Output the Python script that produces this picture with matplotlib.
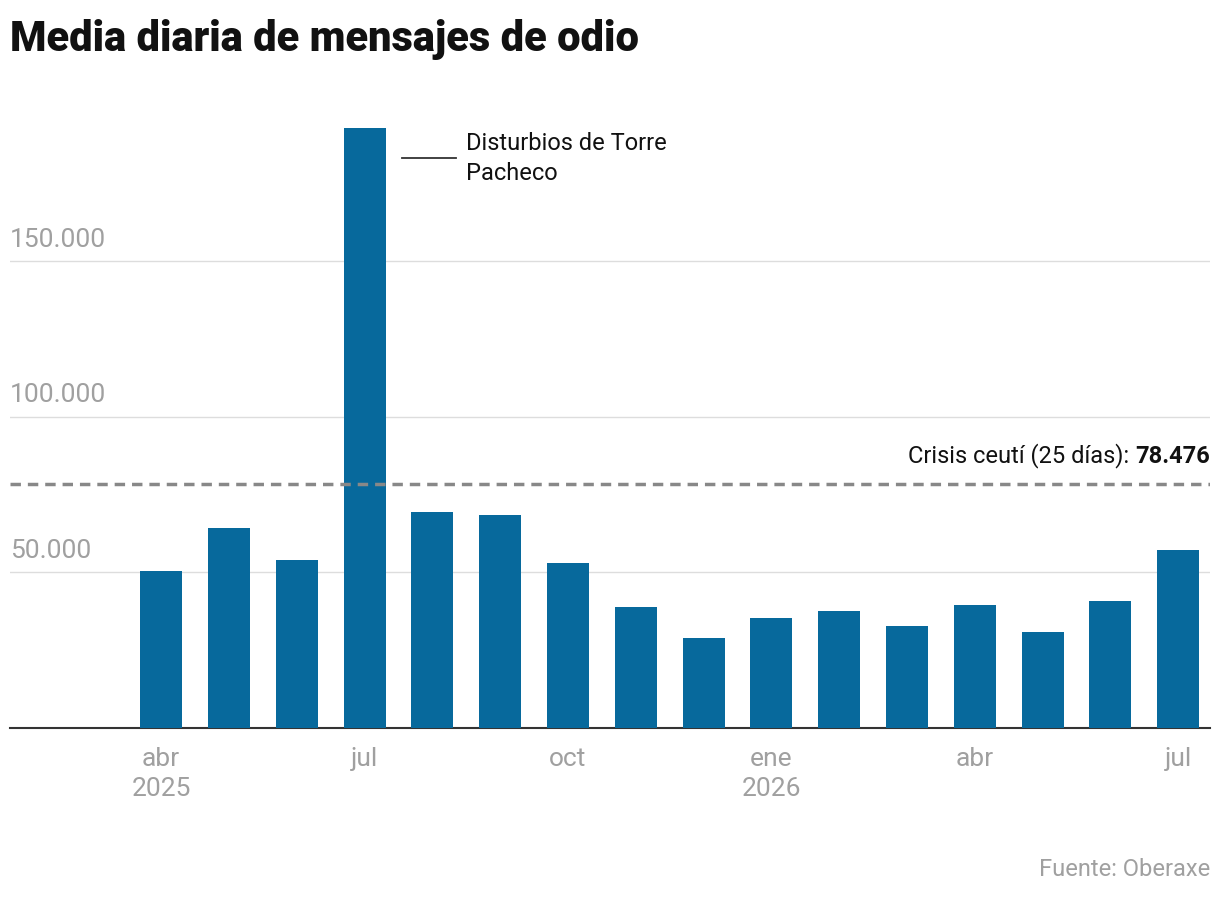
import matplotlib
matplotlib.use("Agg")
import matplotlib.pyplot as plt
from matplotlib.transforms import offset_copy

plt.rcParams['font.family'] = ['Roboto', 'DejaVu Sans']

months = ["abr", "may", "jun", "jul", "ago", "sep", "oct", "nov", "dic",
          "ene", "feb", "mar", "abr", "may", "jun", "jul"]
values = [50400, 64200, 54000, 192700, 69400, 68400, 53000, 38900, 28900,
          35300, 37600, 32800, 39500, 30800, 40800, 57200]
tick_idx = [0, 3, 6, 9, 12, 15]
tick_labels = ["abr\n2025", "jul", "oct", "ene\n2026", "abr", "jul"]
yticks = [50000, 100000, 150000]
ytick_labels = ["50.000", "100.000", "150.000"]
crisis = 78476

fig = plt.figure(figsize=(12.2, 9), dpi=100)
ax = fig.add_axes([10/1220, 1-728/900, 1200/1220, (728-90)/900])
x = list(range(len(values)))
ax.bar(x, values, width=0.62, color="#07699c", zorder=3)
ax.set_xlim(-2.23, 15.47)
ax.set_ylim(0, 205000)
for v, l in zip(yticks, ytick_labels):
    ax.axhline(v, color="#dddddd", lw=1, zorder=1)
    ax.text(-2.23, v + 3000, l, color="#a0a0a0", fontsize=19, va="bottom", ha="left")
ax.axhline(crisis, color="#888888", lw=2.5, ls=(0, (3, 2)), zorder=4)
tb = ax.text(15.47, crisis + 5000, "78.476", ha="right", va="bottom",
             fontsize=17, fontweight="bold", color="#111111")
fig.canvas.draw()
bw = tb.get_window_extent().width
ax.text(15.47, crisis + 5000, "Crisis ceutí (25 días): ", ha="right", va="bottom",
        fontsize=17, color="#111111",
        transform=offset_copy(ax.transData, fig=fig, x=-bw, y=0, units="dots"))
ax.plot([3.55, 4.35], [183000, 183000], color="#333333", lw=1.3)
ax.text(4.5, 183000, "Disturbios de Torre\nPacheco", va="center", ha="left",
        fontsize=17, color="#111111", linespacing=1.35)
for s in ["top", "right", "left"]:
    ax.spines[s].set_visible(False)
ax.spines["bottom"].set_color("#333333")
ax.spines["bottom"].set_linewidth(1.5)
ax.set_yticks([])
ax.set_xticks(tick_idx)
ax.set_xticklabels(tick_labels, fontsize=19, color="#a0a0a0", linespacing=1.3)
ax.tick_params(axis="x", length=0, pad=14)
fig.text(10/1220, 1-40/900, "Media diaria de mensajes de odio", fontsize=30,
         fontweight="heavy", va="center", ha="left", color="#111111")
fig.text(1210/1220, 1-870/900, "Fuente: Oberaxe", fontsize=17, color="#a0a0a0",
         ha="right", va="center")
fig.savefig("out.png", dpi=100)
